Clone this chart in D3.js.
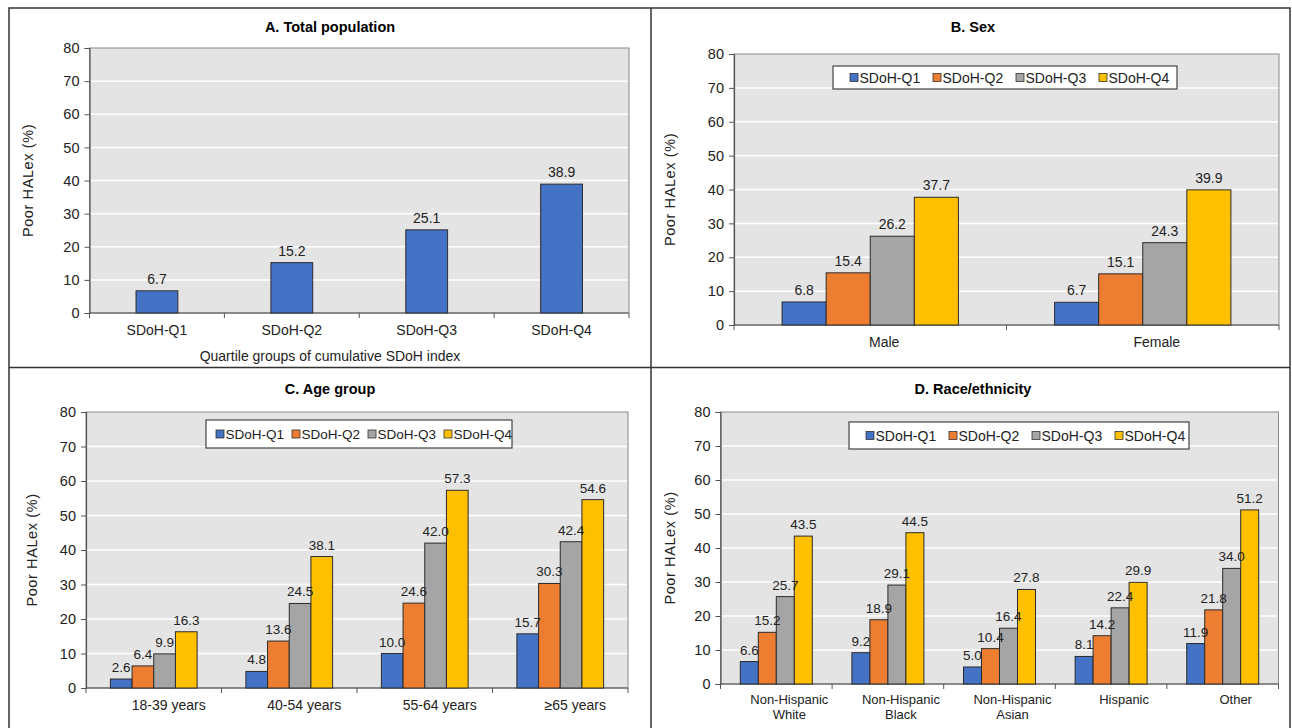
<!DOCTYPE html>
<html>
<head>
<meta charset="utf-8">
<script src="https://cdn.jsdelivr.net/npm/d3@7"></script>
<style>
  body { margin: 0; background: #fff; }
  svg { font-family: "Liberation Sans", Arial, sans-serif; }
  .grid line { stroke: #fff; stroke-width: 1.5; }
  .axis path, .axis line { stroke: #555; }
  .axis text { fill: #222; }
</style>
</head>
<body>
<svg id="chart" width="1292" height="728"></svg>
<script>
// data
const series = ["SDoH-Q1", "SDoH-Q2", "SDoH-Q3", "SDoH-Q4"];
const seriesColours = ["#4472C4", "#ED7D31", "#A5A5A5", "#FFC000"];
const yTicks = [0, 10, 20, 30, 40, 50, 60, 70, 80];

const totalCategories = ["SDoH-Q1", "SDoH-Q2", "SDoH-Q3", "SDoH-Q4"];
const totalValues = [6.7, 15.2, 25.1, 38.9];

const sexCategories = ["Male", "Female"];
const sexValues = [
  [6.8, 15.4, 26.2, 37.7],
  [6.7, 15.1, 24.3, 39.9]
];

const ageCategories = ["18-39 years", "40-54 years", "55-64 years", "≥65 years"];
const ageValues = [
  [2.6, 6.4, 9.9, 16.3],
  [4.8, 13.6, 24.5, 38.1],
  [10.0, 24.6, 42.0, 57.3],
  [15.7, 30.3, 42.4, 54.6]
];

const raceCategories = ["Non-Hispanic\nWhite", "Non-Hispanic\nBlack", "Non-Hispanic\nAsian", "Hispanic", "Other"];
const raceValues = [
  [6.6, 15.2, 25.7, 43.5],
  [9.2, 18.9, 29.1, 44.5],
  [5.0, 10.4, 16.4, 27.8],
  [8.1, 14.2, 22.4, 29.9],
  [11.9, 21.8, 34.0, 51.2]
];

const svg = d3.select("#chart");
const fmt = d3.format(".1f");

// panel frame
const frame = svg.append("g").attr("stroke", "#333").attr("stroke-width", 1.5).attr("fill", "none");
frame.append("rect").attr("x", 9).attr("y", 8).attr("width", 1281).attr("height", 725);
frame.append("line").attr("x1", 651).attr("x2", 651).attr("y1", 8).attr("y2", 728);
frame.append("line").attr("x1", 9).attr("x2", 1290).attr("y1", 367.5).attr("y2", 367.5);

function drawPanel(cfg) {
  const g = svg.append("g");
  const w = cfg.right - cfg.left, h = cfg.bottom - cfg.top;

  const x = d3.scaleBand().domain(cfg.categories).range([cfg.left, cfg.right]).padding(0);
  const y = d3.scaleLinear().domain([0, 80]).range([cfg.bottom, cfg.top]);
  const groupW = x.bandwidth() * cfg.groupFrac;
  const keys = cfg.grouped ? series : ["single"];
  const x1 = d3.scaleBand().domain(keys).range([0, groupW]).padding(0);

  g.append("text").attr("x", cfg.titleX).attr("y", cfg.titleY)
    .attr("text-anchor", "middle").attr("font-weight", "bold").attr("font-size", 14.5)
    .text(cfg.title);

  g.append("rect").attr("x", cfg.left).attr("y", cfg.top).attr("width", w).attr("height", h)
    .attr("fill", "#e4e4e4").attr("stroke", "#8a8a8a").attr("stroke-width", 1);

  g.append("g").attr("class", "grid").selectAll("line")
    .data(yTicks.filter(d => d > 0 && d < 80)).join("line")
    .attr("x1", cfg.left + 1).attr("x2", cfg.right - 1)
    .attr("y1", d => y(d)).attr("y2", d => y(d));

  // y axis
  const yAxis = g.append("g").attr("class", "axis")
    .attr("transform", "translate(" + cfg.left + ",0)")
    .call(d3.axisLeft(y).tickValues(yTicks).tickSize(5).tickPadding(5));
  yAxis.selectAll("text").attr("font-size", 14.5);
  yAxis.select(".domain").attr("stroke-width", 1.2);

  // x axis ticks at band edges
  const edges = cfg.categories.map(c => x(c)).concat([cfg.right]);
  const xg = g.append("g").attr("class", "axis");
  xg.append("line").attr("x1", cfg.left).attr("x2", cfg.right).attr("y1", cfg.bottom).attr("y2", cfg.bottom)
    .attr("stroke-width", 1.2);
  xg.selectAll(".tk").data(edges).join("line").attr("class", "tk")
    .attr("x1", d => d).attr("x2", d => d).attr("y1", cfg.bottom).attr("y2", cfg.bottom + 5);
  xg.selectAll(".lbl").data(cfg.categories).join("text").attr("class", "lbl")
    .attr("text-anchor", "middle").attr("font-size", cfg.catFont)
    .attr("x", d => x(d) + x.bandwidth() / 2 + cfg.labelShift)
    .attr("y", cfg.bottom + cfg.catDy)
    .selectAll("tspan").data(d => d.split("\n")).join("tspan")
      .attr("x", function() { return d3.select(this.parentNode).attr("x"); })
      .attr("dy", (d, i) => i === 0 ? 0 : cfg.catFont + 1.5)
      .text(d => d);

  if (cfg.xTitle) {
    g.append("text").attr("x", cfg.titleX).attr("y", cfg.xTitleY).attr("text-anchor", "middle")
      .attr("font-size", 14).attr("fill", "#222").text(cfg.xTitle);
  }

  g.append("text").attr("transform", "translate(" + (cfg.left + cfg.yLabelDx) + "," + (cfg.top + h / 2) + ") rotate(-90)")
    .attr("text-anchor", "middle").attr("font-size", 14.5).attr("fill", "#222")
    .attr("letter-spacing", 0.6).text("Poor HALex (%)");

  // bars
  const flat = [];
  cfg.categories.forEach((c, i) => {
    const vals = cfg.grouped ? cfg.values[i] : [cfg.values[i]];
    vals.forEach((v, j) => flat.push({cat: c, key: keys[j], colour: seriesColours[j], value: v}));
  });
  const bx = d => x(d.cat) + (x.bandwidth() - groupW) / 2 + x1(d.key);
  g.append("g").selectAll("rect").data(flat).join("rect")
    .attr("x", bx).attr("width", x1.bandwidth())
    .attr("y", d => y(d.value)).attr("height", d => y(0) - y(d.value))
    .attr("fill", d => d.colour).attr("stroke", "#2b2b2b").attr("stroke-width", 1);
  g.append("g").selectAll("text").data(flat).join("text")
    .attr("x", d => bx(d) + x1.bandwidth() / 2).attr("y", d => y(d.value) - 7)
    .attr("text-anchor", "middle").attr("font-size", cfg.valFont).attr("fill", "#222")
    .text(d => fmt(d.value));

  // legend
  if (cfg.legend) {
    const L = cfg.legend;
    const lg = g.append("g");
    lg.append("rect").attr("x", L.x).attr("y", L.y).attr("width", L.w).attr("height", L.h)
      .attr("fill", "#fff").attr("stroke", "#444").attr("stroke-width", 1.2);
    const items = lg.selectAll("g").data(series).join("g")
      .attr("transform", (d, i) => "translate(" + (L.x + L.pad + i * L.step) + "," + (L.y + L.h / 2) + ")");
    items.append("rect").attr("x", 0).attr("y", -4).attr("width", 8).attr("height", 8)
      .attr("fill", (d, i) => seriesColours[i]).attr("stroke", "#333").attr("stroke-width", 0.8);
    items.append("text").attr("x", 9.5).attr("y", 5).attr("font-size", L.font).attr("fill", "#222").text(d => d);
  }
}

drawPanel({
  title: "A. Total population", titleX: 330, titleY: 32,
  left: 89.5, right: 629, top: 48, bottom: 313,
  categories: totalCategories, values: totalValues, grouped: false, groupFrac: 0.31,
  labelShift: 0, catFont: 14, catDy: 22, valFont: 14,
  xTitle: "Quartile groups of cumulative SDoH index", xTitleY: 361,
  yLabelDx: -57
});

drawPanel({
  title: "B. Sex", titleX: 973, titleY: 32,
  left: 734, right: 1279, top: 54, bottom: 325,
  categories: sexCategories, values: sexValues, grouped: true, groupFrac: 0.647,
  labelShift: 14, catFont: 14, catDy: 22, valFont: 14,
  yLabelDx: -59,
  legend: {x: 833, y: 66, w: 344, h: 23, pad: 17, step: 83, font: 14}
});

drawPanel({
  title: "C. Age group", titleX: 330, titleY: 394,
  left: 86, right: 628, top: 412, bottom: 688,
  categories: ageCategories, values: ageValues, grouped: true, groupFrac: 0.64,
  labelShift: 15, catFont: 14, catDy: 22, valFont: 13.5,
  yLabelDx: -49,
  legend: {x: 206, y: 420, w: 306, h: 28, pad: 10, step: 76, font: 13.5}
});

drawPanel({
  title: "D. Race/ethnicity", titleX: 973, titleY: 394,
  left: 720.5, right: 1278.5, top: 412, bottom: 684,
  categories: raceCategories, values: raceValues, grouped: true, groupFrac: 0.645,
  labelShift: 13, catFont: 13, catDy: 20, valFont: 13.5,
  yLabelDx: -46,
  legend: {x: 849, y: 422, w: 340, h: 27, pad: 17, step: 83, font: 14}
});
</script>
</body>
</html>
